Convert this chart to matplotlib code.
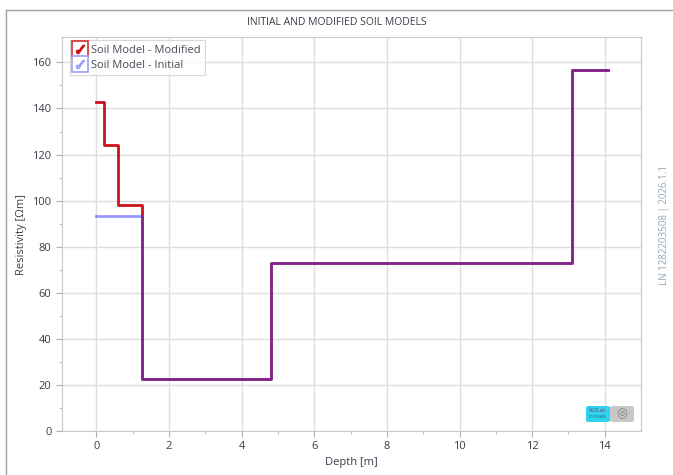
import matplotlib
matplotlib.use("Agg")
import matplotlib.pyplot as plt
from matplotlib.lines import Line2D
from matplotlib.legend_handler import HandlerTuple
from matplotlib.patches import FancyBboxPatch
import numpy as np

plt.rcParams['font.family'] = ['Open Sans', 'DejaVu Sans']

# layer boundaries (depth, m) and resistivity (Ohm m) for each step
depth_mod = [0.0, 0.2, 0.6, 1.25, 4.8, 13.1, 14.1]
res_mod = [143, 124, 98, 22.5, 73, 156.5]
depth_init = [0.0, 1.25, 4.8, 13.1, 14.1]
res_init = [93.5, 22.5, 73, 156.5]

xticks = [0, 2, 4, 6, 8, 10, 12, 14]
yticks = [0, 20, 40, 60, 80, 100, 120, 140, 160]

fig = plt.figure(figsize=(6.73, 4.75), dpi=100)
ax = fig.add_axes([0.0921, 0.0926, 0.8604, 0.8294])

# stairs: values + last value repeated
ax.step(depth_mod, res_mod + [res_mod[-1]], where='post', color='#cc1418', lw=2.0, zorder=3)
ax.step(depth_init, res_init + [res_init[-1]], where='post', color='#3333ff', lw=2.0, alpha=0.5, zorder=4)

ax.set_xlim(-0.95, 15.0)
ax.set_ylim(0, 171)
ax.set_xticks(xticks)
ax.set_yticks(yticks)
ax.set_xticks(np.arange(1, 15, 2), minor=True)
ax.set_yticks(np.arange(10, 170, 20), minor=True)
ax.grid(True, which='major', color='#dedede', lw=1.0)
ax.set_axisbelow(True)

for s in ax.spines.values():
    s.set_color('#c8c8c8')
ax.tick_params(which='both', colors='#b0b0b0', labelcolor='#3c3c4a', labelsize=8)
ax.tick_params(which='major', length=4)
ax.tick_params(which='minor', length=2)

ax.set_xlabel('Depth [m]', fontsize=8, color='#3c3c4a', labelpad=3)
ax.set_ylabel('Resistivity [\u03a9m]', fontsize=8, color='#3c3c4a', labelpad=4)

fig.text(0.5, 0.952, 'INITIAL AND MODIFIED SOIL MODELS', ha='center', va='center',
         fontsize=7.5, color='#3c3c4a')

# checkbox style legend
box_r = Line2D([], [], marker='s', ms=11, mfc='white', mec='#d03030', mew=1.2, ls='none')
chk_r = Line2D([], [], marker=r'$\checkmark$', ms=6, color='#cc1418', ls='none')
box_b = Line2D([], [], marker='s', ms=11, mfc='white', mec='#a0a0f8', mew=1.2, ls='none')
chk_b = Line2D([], [], marker=r'$\checkmark$', ms=6, color='#a0a0f8', ls='none')
leg = ax.legend([(box_r, chk_r), (box_b, chk_b)],
                ['Soil Model - Modified', 'Soil Model - Initial'],
                handler_map={tuple: HandlerTuple(ndivide=1, pad=0)},
                loc='upper left', fontsize=8, handlelength=1.0, handletextpad=0.5,
                borderpad=0.4, labelspacing=0.35, fancybox=False,
                bbox_to_anchor=(0.008, 1.0), borderaxespad=0.3)
leg.get_frame().set_edgecolor('#d0d0d0')
leg.get_frame().set_linewidth(0.8)
for t in leg.get_texts():
    t.set_color('#4a4a5a')

# logo badge
logo = FancyBboxPatch((586 / 673, 1 - 422 / 475), 24 / 673, 16 / 475,
                      boxstyle='round,pad=0,rounding_size=0.004', transform=fig.transFigure,
                      fc='#2fd3f0', ec='none', zorder=5)
fig.patches.append(logo)
logo2 = FancyBboxPatch((610 / 673, 1 - 422 / 475), 24 / 673, 16 / 475,
                       boxstyle='round,pad=0,rounding_size=0.004', transform=fig.transFigure,
                       fc='#c8c8c8', ec='none', zorder=5)
fig.patches.append(logo2)
fig.text(598 / 673, 1 - 411 / 475, 'XGSLab', fontsize=3.5, color='#b03050', ha='center', va='center', zorder=6)
fig.text(598 / 673, 1 - 417 / 475, 'SOFTWARE', fontsize=2.5, color='#306070', ha='center', va='center', zorder=6)
fig.text(622 / 673, 1 - 414 / 475, '\u25ce', fontsize=9, color='#808080', ha='center', va='center', zorder=6)

# outer frame
fig.add_artist(Line2D([6 / 673, 1], [1 - 10 / 475] * 2, transform=fig.transFigure, color='#a0a0a8', lw=1.0))
fig.add_artist(Line2D([6 / 673] * 2, [0, 1 - 10 / 475], transform=fig.transFigure, color='#a0a0a8', lw=1.0))

fig.text(664 / 673, 1 - 225 / 475, 'LN 1282203508 | 2026.1.1', rotation=90, ha='center', va='center',
         fontsize=7, color='#90a8b8')

fig.savefig('out.png', dpi=100)
